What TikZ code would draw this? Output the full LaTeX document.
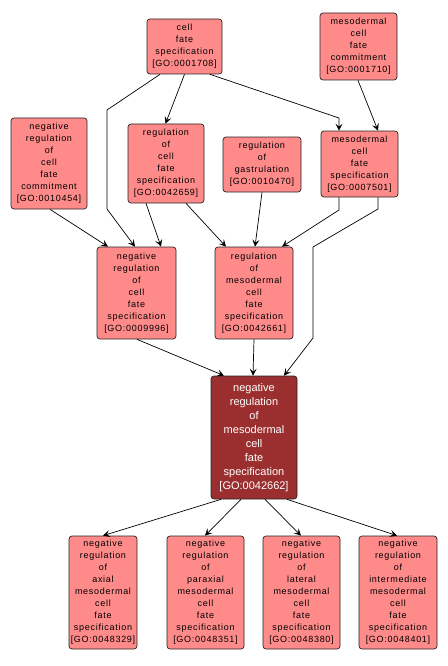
\documentclass[tikz,border=0pt]{standalone}
\usepackage{fontspec}
\setmainfont{Liberation Sans}
\newfontfamily\lblfont[LetterSpace=8]{Liberation Sans}
\usetikzlibrary{arrows.meta}
\definecolor{goLight}{RGB}{255,138,138}
\definecolor{goDark}{RGB}{155,47,47}
\tikzset{
  term/.style={draw=black!85, line width=0.7pt, fill=goLight, rounded corners=3pt, align=center,
    inner sep=0pt, font=\lblfont\fontsize{9}{12}\selectfont, text=black},
  mainterm/.style={term, fill=goDark, text=white, font=\fontsize{11}{14}\selectfont},
  arr/.style={draw=black, line width=0.7pt, -{Stealth[length=7pt,width=7pt,inset=3pt]}}
}
\begin{document}
\begin{tikzpicture}[x=1pt,y=-1pt]
\useasboundingbox (0,0) rectangle (447,666);
\node[term, minimum width=75pt, minimum height=55pt] (n1) at (184.5,46.5) {cell\\fate\\specification\\{[}GO:0001708{]}};
\node[term, minimum width=77pt, minimum height=67pt] (n2) at (358.5,46.5) {mesodermal\\cell\\fate\\commitment\\{[}GO:0001710{]}};
\node[term, minimum width=76pt, minimum height=91pt] (n3) at (49,163.5) {negative\\regulation\\of\\cell\\fate\\commitment\\{[}GO:0010454{]}};
\node[term, minimum width=76pt, minimum height=79pt] (n4) at (166,163.5) {regulation\\of\\cell\\fate\\specification\\{[}GO:0042659{]}};
\node[term, minimum width=78pt, minimum height=55pt] (n5) at (262,164.5) {regulation\\of\\gastrulation\\{[}GO:0010470{]}};
\node[term, minimum width=77pt, minimum height=66pt] (n6) at (359.5,164) {mesodermal\\cell\\fate\\specification\\{[}GO:0007501{]}};
\node[term, minimum width=79pt, minimum height=92pt] (n7) at (136.5,293) {negative\\regulation\\of\\cell\\fate\\specification\\{[}GO:0009996{]}};
\node[term, minimum width=78pt, minimum height=92pt] (n8) at (254,293) {regulation\\of\\mesodermal\\cell\\fate\\specification\\{[}GO:0042661{]}};
\node[mainterm, minimum width=86pt, minimum height=123pt] (n9) at (254,437.5) {negative\\regulation\\of\\mesodermal\\cell\\fate\\specification\\{[}GO:0042662{]}};
\node[term, minimum width=68pt, minimum height=113pt] (b1) at (103,592.5) {negative\\regulation\\of\\axial\\mesodermal\\cell\\fate\\specification\\{[}GO:0048329{]}};
\node[term, minimum width=77pt, minimum height=113pt] (b2) at (205.5,592.5) {negative\\regulation\\of\\paraxial\\mesodermal\\cell\\fate\\specification\\{[}GO:0048351{]}};
\node[term, minimum width=77pt, minimum height=113pt] (b3) at (301.5,592.5) {negative\\regulation\\of\\lateral\\mesodermal\\cell\\fate\\specification\\{[}GO:0048380{]}};
\node[term, minimum width=78pt, minimum height=113pt] (b4) at (398,592.5) {negative\\regulation\\of\\intermediate\\mesodermal\\cell\\fate\\specification\\{[}GO:0048401{]}};

\draw[arr] (n1.south) -- ([xshift=-0.5pt]n4.north);
\draw[arr] ([xshift=-24.5pt]n1.south) -- (107,110) -- (107,209) -- ([xshift=-1.5pt]n7.north);
\draw[arr] ([xshift=25.5pt]n1.south) -- (339,118) -- ([xshift=-20.5pt]n6.north);
\draw[arr] ([xshift=-0.5pt]n2.south) -- ([xshift=18.5pt]n6.north);
\draw[arr] ([xshift=1pt]n3.south) -- ([xshift=-28.5pt]n7.north);
\draw[arr] ([xshift=-20pt]n4.south) -- ([xshift=24.5pt]n7.north);
\draw[arr] ([xshift=20pt]n4.south) -- ([xshift=-28pt]n8.north);
\draw[arr] (n5.south) -- ([xshift=1pt]n8.north);
\draw[arr] ([xshift=-20.5pt]n6.south) -- (339,210) -- ([xshift=28pt]n8.north);
\draw[arr] ([xshift=18.5pt]n6.south) -- (378,209) -- (313,247) -- (313,338) -- ([xshift=30pt]n9.north);
\draw[arr] ([xshift=0.5pt]n7.south) -- ([xshift=-30pt]n9.north);
\draw[arr] (n8.south) -- ([xshift=-1pt]n9.north);
\draw[arr] ([xshift=-33pt]n9.south) -- (b1.north);
\draw[arr] ([xshift=-13pt]n9.south) -- ([xshift=-0.5pt]b2.north);
\draw[arr] ([xshift=11pt]n9.south) -- ([xshift=-0.5pt]b3.north);
\draw[arr] ([xshift=33pt]n9.south) -- ([xshift=-1pt]b4.north);
\end{tikzpicture}
\end{document}
